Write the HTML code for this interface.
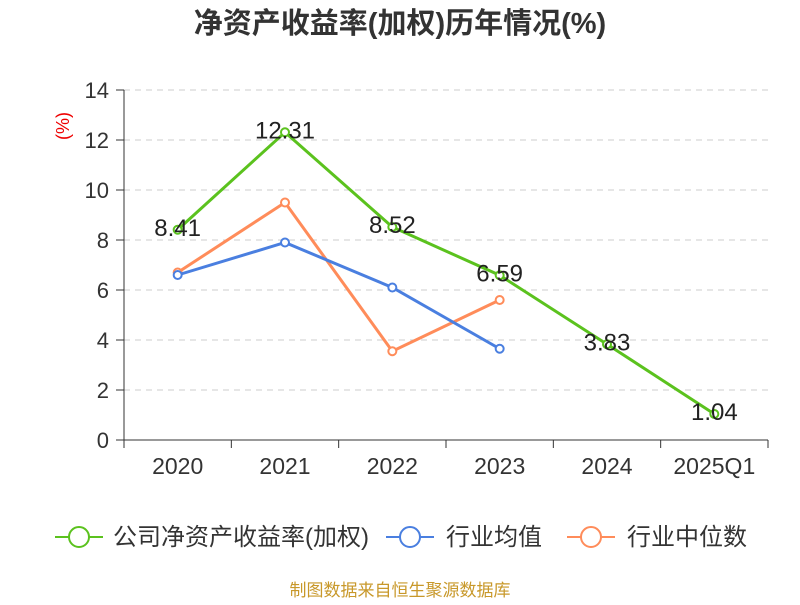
<!DOCTYPE html>
<html><head><meta charset="utf-8"><style>
body{margin:0;background:#fff;width:800px;height:600px;overflow:hidden;font-family:"Liberation Sans","Noto Sans CJK SC",sans-serif;}
</style></head><body>
<svg width="800" height="600" xmlns="http://www.w3.org/2000/svg" font-family="Liberation Sans, Noto Sans CJK SC, sans-serif">
<text x="400" y="33" text-anchor="middle" font-size="29" font-weight="bold" fill="#333">净资产收益率(加权)历年情况(%)</text>
<text transform="translate(69,126) rotate(-90)" text-anchor="middle" font-size="18" fill="#e00">(%)</text>
<g id="grid"></g><g id="axes"></g><g id="series"></g>
<g>
<g><line x1="55" y1="537" x2="103" y2="537" stroke="#5bc21e" stroke-width="2"/><circle cx="79" cy="537" r="10" fill="#fff" stroke="#5bc21e" stroke-width="2"/><text x="113" y="545" font-size="24" fill="#333">公司净资产收益率(加权)</text></g>
<g><line x1="386" y1="537" x2="434" y2="537" stroke="#4a7fe0" stroke-width="2"/><circle cx="410" cy="537" r="10" fill="#fff" stroke="#4a7fe0" stroke-width="2"/><text x="446" y="545" font-size="24" fill="#333">行业均值</text></g>
<g><line x1="567" y1="537" x2="615" y2="537" stroke="#ff8c5a" stroke-width="2"/><circle cx="591" cy="537" r="10" fill="#fff" stroke="#ff8c5a" stroke-width="2"/><text x="627" y="545" font-size="24" fill="#333">行业中位数</text></g>
</g>
<text x="400" y="596" text-anchor="middle" font-size="17" fill="#c8982a">制图数据来自恒生聚源数据库</text>
</svg>
<script>
const categories=["2020","2021","2022","2023","2024","2025Q1"];
const companyValues=[8.41,12.31,8.52,6.59,3.83,1.04];
const industryAvg=[6.6,7.9,6.1,3.65];
const industryMedian=[6.7,9.5,3.55,5.6];
const yTicks=[0,2,4,6,8,10,12,14];
const NS="http://www.w3.org/2000/svg";
const x0=124,x1=768,y0=440,yTop=90,yMax=14;
const bw=(x1-x0)/categories.length;
const xs=i=>x0+bw*(i+0.5);
const ys=v=>y0-(v/yMax)*(y0-yTop);
function mk(tag,attrs,parent){const e=document.createElementNS(NS,tag);for(const k in attrs)e.setAttribute(k,attrs[k]);parent.appendChild(e);return e;}
const grid=document.getElementById('grid'),axes=document.getElementById('axes'),series=document.getElementById('series');
yTicks.forEach(t=>{
 const y=ys(t);
 if(t>0){const g=mk('line',{x1:x0,x2:x1,y1:y,y2:y,stroke:'#ccc','stroke-dasharray':'6,5'},grid);
 
 }
 mk('line',{x1:x0-8,x2:x0,y1:y,y2:y,stroke:'#333'},axes);
 const tx=mk('text',{x:x0-15,y:y+8,'text-anchor':'end','font-size':'22',fill:'#333'},axes);
 tx.textContent=t;
 
 
});
mk('line',{x1:x0,x2:x0,y1:yTop,y2:y0,stroke:'#333'},axes);
mk('line',{x1:x0,x2:x1,y1:y0,y2:y0,stroke:'#333'},axes);
for(let i=0;i<=categories.length;i++){const x=x0+bw*i;mk('line',{x1:x,x2:x,y1:y0,y2:y0+8,stroke:'#333'},axes);}
categories.forEach((c,i)=>{const t=mk('text',{x:xs(i),y:474,'text-anchor':'middle','font-size':'23',fill:'#333'},axes);t.textContent=c;
 
 });
function draw(vals,color,name,labels){
 const pts=vals.map((v,i)=>xs(i)+','+ys(v)).join(' ');
 const pl=mk('polyline',{points:pts,fill:'none',stroke:color,'stroke-width':'3'},series);
 
 
 vals.forEach((v,i)=>{
  const c=mk('circle',{cx:xs(i),cy:ys(v),r:4,fill:'#fff',stroke:color,'stroke-width':'2'},series);
  
  
 });
 if(labels)vals.forEach((v,i)=>{
  const t=mk('text',{x:xs(i),y:ys(v)+6,'text-anchor':'middle','font-size':'24',fill:'#222'},series);
  t.textContent=v.toFixed(2);
  
  
 });
}
draw(industryMedian,'#ff8c5a','industry-median',false);
draw(industryAvg,'#4a7fe0','industry-average',false);
draw(companyValues,'#5bc21e','company',true);
</script>
</body></html>
